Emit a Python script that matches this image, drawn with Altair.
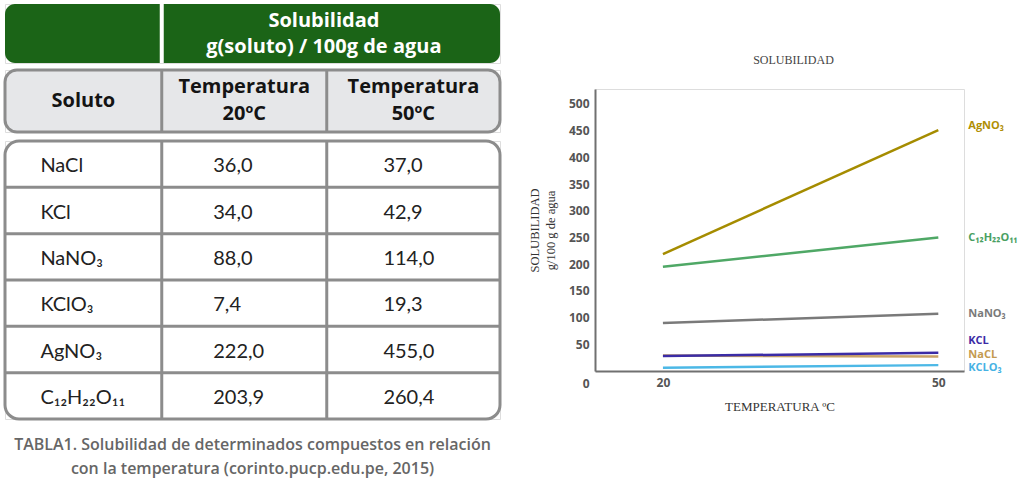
import altair as alt
import pandas as pd

# ---------------- table data ----------------
solutes = ["NaCl", "KCl", "NaNO₃", "KClO₃", "AgNO₃", "C₁₂H₂₂O₁₁"]
sol_20 = ["36,0", "34,0", "88,0", "7,4", "222,0", "203,9"]
sol_50 = ["37,0", "42,9", "114,0", "19,3", "455,0", "260,4"]
header_cols = ["Soluto", "Temperatura\n20ºC", "Temperatura\n50ºC"]
group_header = "Solubilidad\ng(soluto) / 100g de agua"
caption = ["TABLA1. Solubilidad de determinados compuestos en relación",
           "con la temperatura (corinto.pucp.edu.pe, 2015)"]

# ---------------- chart data ----------------
temps = [20, 50]
agno3 = [219, 451]
sucrose = [195, 250]
nano3 = [90, 107]
kclo3 = [6, 11]
nacl = [29, 27]
kcl = [28, 34]
series_names = ["AgNO₃", "C₁₂H₂₂O₁₁", "NaNO₃", "KCLO₃", "NaCL", "KCL"]
series_values = [agno3, sucrose, nano3, kclo3, nacl, kcl]
y_ticks = [0, 50, 100, 150, 200, 250, 300, 350, 400, 450, 500]
x_ticks = [20, 50]

# ---------------- styles / layout ----------------
line_colors = ["#a58c00", "#4fa866", "#7a7a7a", "#4cb8e6", "#c9a266", "#3b2ca6"]
label_colors = ["#b08f05", "#4a9f62", "#7a7a7a", "#46b2e4", "#c49a50", "#3b2ca6"]
label_dy = [-4, 1, 0, 3, -2, -12]
COL_EDGES = [0.0, 0.95, 1.95, 3.0]
TW = 495
GREEN = "#1b6417"
BORDER = "#8c8c8c"
HEAD_FONT = "Open Sans"
BODY_FONT = "Lato, Noto Sans, DejaVu Sans"
SERIF = "Liberation Serif"

cols = pd.DataFrame({
    "i": list(range(len(header_cols))),
    "label": header_cols,
    "left": COL_EDGES[:-1],
    "right": COL_EDGES[1:],
})
cols["mid"] = (cols["left"] + cols["right"]) / 2

xs = alt.Scale(domain=[COL_EDGES[0], COL_EDGES[-1]], nice=False, zero=False)

# ---- green header ----
gh_base = alt.Chart(cols)
gh_box = gh_base.transform_aggregate(l="min(left)", r="max(right)").mark_rect(
    color=GREEN, cornerRadius=10
).encode(x=alt.X("l:Q", scale=xs, axis=None), x2="r:Q")
gh_div = gh_base.transform_filter("datum.i == 1").mark_rule(
    color="white", strokeWidth=4
).encode(x=alt.X("left:Q", scale=xs, axis=None))
gh_text = gh_base.transform_filter("datum.i >= 1").transform_aggregate(
    l="min(left)", r="max(right)"
).transform_calculate(m="(datum.l + datum.r) / 2", t=f"{group_header!r}", yy="0.5").mark_text(
    color="white", font=HEAD_FONT, fontWeight="bold", fontSize=20, lineBreak="\n",
    lineHeight=25.5, dx=-7, dy=-12.5
).encode(
    x=alt.X("m:Q", scale=xs, axis=None),
    y=alt.Y("yy:Q", scale=alt.Scale(domain=[0, 1]), axis=None),
    text="t:N",
)
green = alt.layer(gh_box, gh_div, gh_text).properties(width=TW, height=59)

# ---- gray header ----
hb = alt.Chart(cols).transform_calculate(yy="0.5")
h_box = hb.transform_aggregate(l="min(left)", r="max(right)").mark_rect(
    fill="#e6e7e9", stroke=BORDER, strokeWidth=3, cornerRadius=12
).encode(x=alt.X("l:Q", scale=xs, axis=None), x2="r:Q")
h_div = hb.transform_filter("datum.i >= 1").mark_rule(
    color=BORDER, strokeWidth=3
).encode(x=alt.X("left:Q", scale=xs, axis=None))
h_text_one = hb.transform_filter("datum.i == 0").mark_text(
    color="#141414", font=HEAD_FONT, fontWeight="bold", fontSize=20, dy=0
).encode(
    x=alt.X("mid:Q", scale=xs, axis=None),
    y=alt.Y("yy:Q", scale=alt.Scale(domain=[0, 1]), axis=None),
    text="label:N",
)
h_text_two = hb.transform_filter("datum.i >= 1").mark_text(
    color="#141414", font=HEAD_FONT, fontWeight="bold", fontSize=20, lineBreak="\n",
    lineHeight=27, dy=-14
).encode(
    x=alt.X("mid:Q", scale=xs, axis=None),
    y=alt.Y("yy:Q", scale=alt.Scale(domain=[0, 1]), axis=None),
    text="label:N",
)
gray = alt.layer(h_box, h_div, h_text_one, h_text_two).properties(width=TW, height=62)

# ---- body ----
rows = pd.DataFrame({"r": list(range(len(solutes))), "s": solutes, "a": sol_20, "b": sol_50})
rows["c"] = rows["r"] + 0.5
ys = alt.Scale(domain=[0, len(solutes)], reverse=True, nice=False, zero=False)

b_box = alt.Chart(cols).transform_aggregate(l="min(left)", r="max(right)").mark_rect(
    fill="white", stroke=BORDER, strokeWidth=3, cornerRadius=14
).encode(x=alt.X("l:Q", scale=xs, axis=None), x2="r:Q")
b_vdiv = alt.Chart(cols).transform_filter("datum.i >= 1").mark_rule(
    color=BORDER, strokeWidth=3
).encode(x=alt.X("left:Q", scale=xs, axis=None))
b_hdiv = alt.Chart(rows).transform_filter("datum.r >= 1").mark_rule(
    color=BORDER, strokeWidth=3
).encode(y=alt.Y("r:Q", scale=ys, axis=None))

text_layers = []
for ci, field, dx in [(0, "s", -43), (1, "a", -31), (2, "b", -30)]:
    text_layers.append(
        alt.Chart(rows).transform_calculate(xx=str(float(cols["mid"][ci]))).mark_text(
            align="left", font=BODY_FONT, fontSize=20, color="#222222", dx=dx, dy=2
        ).encode(
            x=alt.X("xx:Q", scale=xs, axis=None),
            y=alt.Y("c:Q", scale=ys, axis=None),
            text=f"{field}:N",
        )
    )
body = alt.layer(b_box, b_vdiv, b_hdiv, *text_layers).properties(width=TW, height=278)

table = alt.vconcat(
    alt.vconcat(green, gray, spacing=2),
    body,
    spacing=5,
).properties(
    title=alt.TitleParams(
        caption, orient="bottom", anchor="middle", font=HEAD_FONT, fontSize=16,
        fontWeight=600, color="#666666", lineHeight=24, offset=16,
    )
)

# ---------------- line chart ----------------
x_sc = alt.Scale(domain=[12.6, 52.8], nice=False, zero=False)
y_sc = alt.Scale(domain=[0, 528], nice=False, zero=False)
x_ax = alt.Axis(
    values=x_ticks, format="d", ticks=False, grid=False, domainColor="#707070", domainWidth=2,
    labelFont=HEAD_FONT, labelFontWeight="bold", labelFontSize=12, labelColor="#555555",
    labelPadding=6, labelFlush=False, title="TEMPERATURA ºC", titleFont=SERIF,
    titleFontSize=13, titleFontWeight="normal", titleColor="#333333", titlePadding=12,
)
y_ax = alt.Axis(
    values=y_ticks, format="d", ticks=False, grid=False, domainColor="#707070", domainWidth=2,
    labelFont=HEAD_FONT, labelFontWeight="bold", labelFontSize=12, labelColor="#555555",
    labelPadding=6, labelFlush=False, labelOverlap=False,
    labelOffset={"condition": {"test": "datum.value === 0", "value": 12}, "value": 0},
    title=["SOLUBILIDAD", "g/100 g de agua"], titleFont=SERIF, titleFontSize=12.5,
    titleFontWeight="normal", titleColor="#333333", titlePadding=11, titleLineHeight=16,
)

layers = []
for name, vals, lc in zip(series_names, series_values, line_colors):
    df = pd.DataFrame({"temp": temps, "value": vals, "name": name})
    layers.append(
        alt.Chart(df).mark_line(color=lc, strokeWidth=2.5).encode(
            x=alt.X("temp:Q", scale=x_sc, axis=x_ax),
            y=alt.Y("value:Q", scale=y_sc, axis=y_ax),
        )
    )
for name, vals, lc, dy in zip(series_names, series_values, label_colors, label_dy):
    df = pd.DataFrame({"temp": temps[-1:], "value": vals[-1:], "name": name})
    layers.append(
        alt.Chart(df).mark_text(
            align="left", dx=30, dy=dy, color=lc, font=HEAD_FONT, fontWeight="bold", fontSize=11
        ).encode(
            x=alt.X("temp:Q", scale=x_sc, axis=x_ax),
            y=alt.Y("value:Q", scale=y_sc, axis=y_ax),
            text="name:N",
        )
    )

line_chart = alt.layer(*layers).properties(
    width=369, height=282,
    title=alt.TitleParams(
        "SOLUBILIDAD", font=SERIF, fontSize=12, fontWeight="normal", color="#444444",
        anchor="middle", frame="group", offset=22, dx=14,
    ),
)

spacer = alt.Chart(pd.DataFrame({"t": [""]})).mark_text().encode(text="t:N").properties(
    width=369, height=14
)
right = alt.vconcat(spacer, line_chart, spacing=35)

chart = alt.hconcat(table, right, spacing=25).properties(
    padding={"left": 3, "top": 1, "right": 0, "bottom": 3}
).configure_view(stroke=None).configure(background="white")

chart.save("out.html", embed_options={"renderer": "svg", "actions": False})
